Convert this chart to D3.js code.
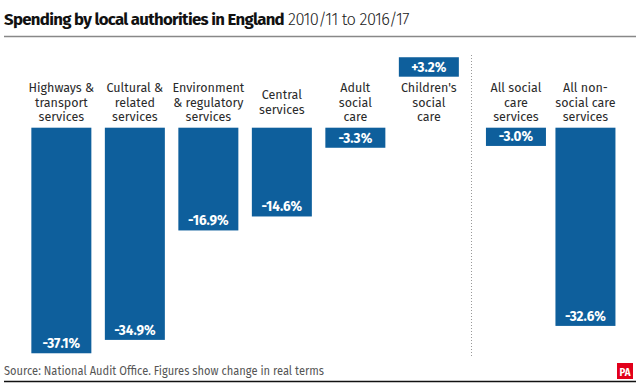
<!DOCTYPE html>
<html><head><meta charset="utf-8">
<script src="https://cdn.jsdelivr.net/npm/d3@7"></script>
<style>body{margin:0;background:#fff}svg{display:block}</style>
</head><body>
<svg id="c" width="640" height="384"></svg>
<script>
const categories = [
  ["Highways &","transport","services"],
  ["Cultural &","related","services"],
  ["Environment","& regulatory","services"],
  ["Central","services"],
  ["Adult","social","care"],
  ["Children's","social","care"]
];
const values = [-37.1, -34.9, -16.9, -14.6, -3.3, 3.2];
const summaryCategories = [
  ["All social","care","services"],
  ["All non-","social care","services"]
];
const summaryValues = [-3.0, -32.6];
const title = "Spending by local authorities in England";
const subtitle = "2010/11 to 2016/17";
const source = "Source: National Audit Office. Figures show change in real terms";

const svg = d3.select("#c");
const font = "'Fira Sans', Roboto, 'Noto Sans', sans-serif";
const barColor = "#0e5f9c";

// title (one text element, two tspans)
const tt = svg.append("text").attr("x",4).attr("y",25).attr("font-family",font).attr("fill","#111");
const t1 = tt.append("tspan").attr("font-size",16.8).attr("font-weight",700).text(title);
const t2 = tt.append("tspan").attr("font-size",16.5).attr("font-weight",300).attr("fill","#222").text(" " + subtitle);
// fit widths to reference via letter spacing
const w1 = t1.node().getComputedTextLength();
t1.attr("letter-spacing", Math.max(-0.7, Math.min(0.5, (268 - w1) / title.length)));
const w2 = t2.node().getComputedTextLength();
t2.attr("letter-spacing", Math.max(-0.6, Math.min(0.6, (125 - w2) / (subtitle.length + 1))));

svg.append("line").attr("x1",4).attr("x2",636).attr("y1",36.5).attr("y2",36.5)
  .attr("stroke","#888").attr("stroke-width",1.5);

// scales
const xL = d3.scaleBand().domain(d3.range(values.length)).range([24.6, 465.6]).paddingInner(13.5/73.5).paddingOuter(6.75/73.5);
const xR = d3.scaleBand().domain(d3.range(summaryValues.length)).range([481.2, 620.2]).paddingInner(9.5/69.5).paddingOuter(4.75/69.5);
const pxPer = 6.08;
const yNeg = d3.scaleLinear().domain([0,-37.1]).range([127.7, 127.7 + 37.1*pxPer]);
const yPos = d3.scaleLinear().domain([0, 3.2]).range([76.7, 76.7 - 3.2*pxPer]);

function fmt(v){ return (v>0?"+":"") + v.toFixed(1) + "%"; }

function drawGroup(cats, vals, x){
  const g = svg.append("g");
  vals.forEach((v,i)=>{
    const x0 = x(i), w = x.bandwidth(), cx = x0 + w/2;
    let top, bot;
    if (v < 0){ top = yNeg(0); bot = yNeg(v); }
    else { top = yPos(v); bot = yPos(0); }
    g.append("rect").attr("x",x0).attr("y",top).attr("width",w).attr("height",bot-top).attr("fill",barColor);
    const ty = v < 0 ? bot - 5 : (top+bot)/2 + 5;
    g.append("text").attr("x",cx).attr("y",ty).attr("text-anchor","middle")
      .attr("font-family",font).attr("font-size",13.5).attr("font-weight",700).attr("fill","#fff")
      .text(fmt(v));
    const lines = cats[i];
    const lh = 14.5, mid = 106.5;
    const first = mid - (lines.length-1)/2*lh;
    const t = g.append("text").attr("text-anchor","middle").attr("font-family",font)
      .attr("font-size",12.5).attr("fill","#2a2a2a");
    lines.forEach((l,j)=>{
      t.append("tspan").attr("x",cx).attr("y",first + j*lh).text(l);
    });
  });
}
drawGroup(categories, values, xL);
drawGroup(summaryCategories, summaryValues, xR);

// divider
svg.append("line").attr("x1",471.5).attr("x2",471.5).attr("y1",55).attr("y2",356)
  .attr("stroke","#999").attr("stroke-width",1).attr("stroke-dasharray","1,2");

// source
svg.append("text").attr("x",4).attr("y",375).attr("font-family",font).attr("font-size",12)
  .attr("fill","#555").attr("textLength",320).attr("lengthAdjust","spacingAndGlyphs").text(source);
svg.append("line").attr("x1",4).attr("x2",636).attr("y1",381.5).attr("y2",381.5)
  .attr("stroke","#111").attr("stroke-width",1.5);
// PA logo
svg.append("rect").attr("x",617).attr("y",363).attr("width",16).attr("height",16).attr("fill","#e2001a");
svg.append("text").attr("x",625).attr("y",376).attr("text-anchor","middle").attr("font-family",font)
  .attr("font-size",11).attr("font-weight",700).attr("fill","#fff").attr("textLength",11)
  .attr("lengthAdjust","spacingAndGlyphs").text("PA");
</script>
</body></html>
